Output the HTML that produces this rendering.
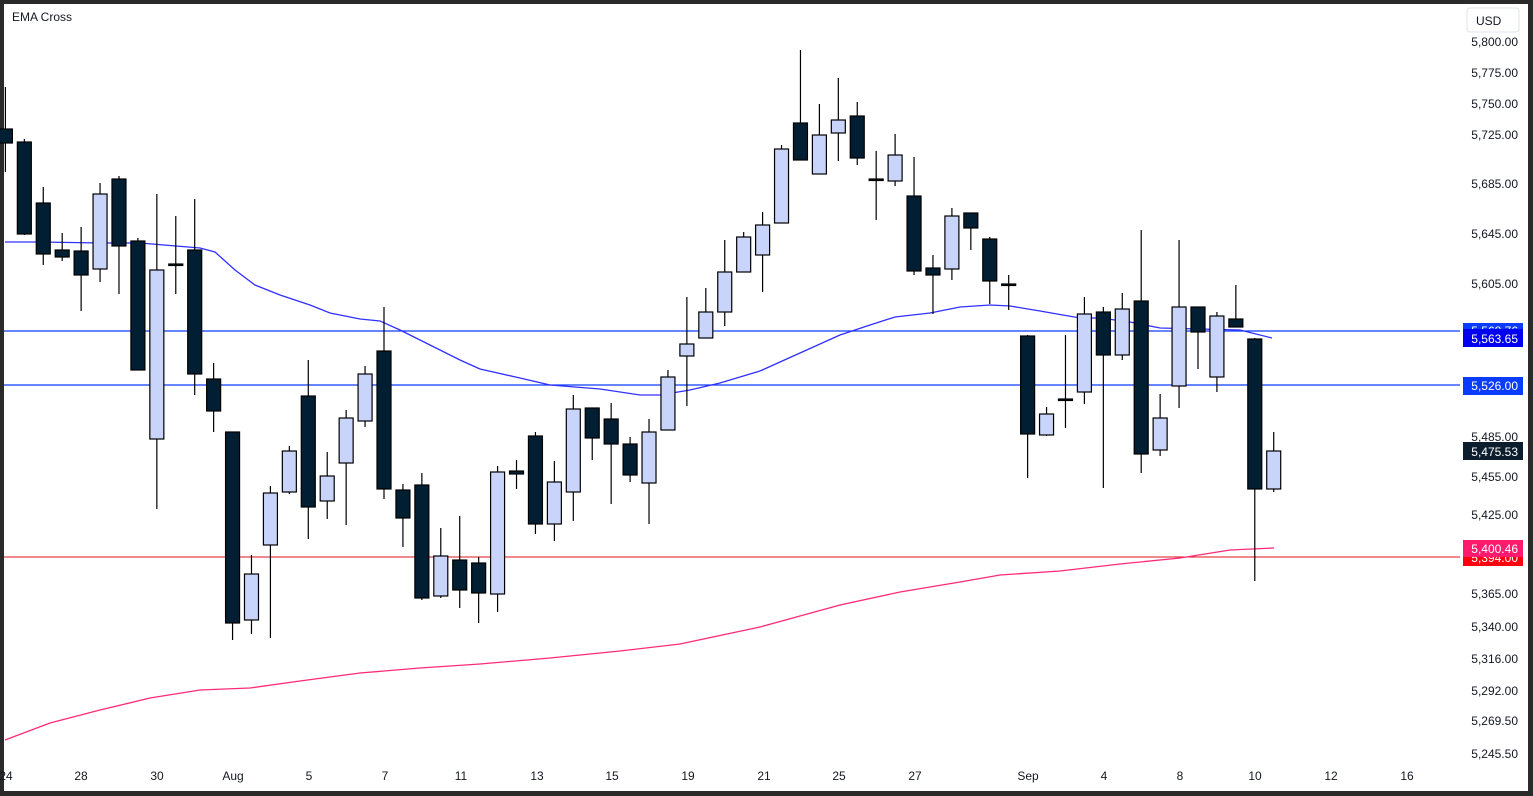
<!DOCTYPE html>
<html><head><meta charset="utf-8"><style>
html,body{margin:0;padding:0;background:#2a2a2a;}
svg{display:block;}
text{font-family:"Liberation Sans",sans-serif;}
</style></head><body>
<svg width="1533" height="796" viewBox="0 0 1533 796" xmlns="http://www.w3.org/2000/svg">
<rect x="0" y="0" width="1533" height="796" fill="#2a2a2a"/>
<rect x="4" y="4" width="1524" height="787" fill="#ffffff"/>
<text x="12" y="21" font-size="12" fill="#131722">EMA Cross</text>
<rect x="1467" y="8" width="52" height="24" rx="3" fill="#fff" stroke="#e0e3eb"/>
<text x="1476" y="25" font-size="12" fill="#131722">USD</text>
<g id="lines">
<line x1="4" y1="331" x2="1460" y2="331" stroke="#0a3cff" stroke-width="1.2"/>
<line x1="4" y1="385" x2="1460" y2="385" stroke="#0a3cff" stroke-width="1.2"/>
<line x1="4" y1="557" x2="1460" y2="557" stroke="#e0101a" stroke-width="1"/>
<polyline fill="none" stroke="#3030ff" stroke-width="1.3" points="5,242 40,242 100,243 140,243 200,248 215,252 235,270 255,285 280,295 310,305 330,313 360,319 380,321 400,330 430,345 460,360 480,369 520,378 550,385 600,389 640,395 660,395 690,390 720,383 760,371 800,353 840,335 870,325 895,317 930,313 960,307 990,305 1010,306 1040,311 1080,318 1100,318 1130,322 1160,328 1200,329 1240,330 1272,338"/>
<polyline fill="none" stroke="#ff2a78" stroke-width="1.3" points="5,740 50,723 100,710 150,698 200,690 250,688 300,681 360,673 420,668 480,664 550,658 620,651 680,644 760,627 840,605 900,592 960,582 1000,575 1060,571 1120,564 1180,558 1230,550 1274,548"/>
</g>
<g id="candles" stroke="#000" stroke-width="1.2"></g>
<g font-size="12" fill="#131722" text-anchor="end" id="yax"></g>
<g font-size="12" fill="#131722" text-anchor="middle">
<text x="6" y="780">24</text><text x="81" y="780">28</text><text x="157" y="780">30</text><text x="233" y="780">Aug</text><text x="309" y="780">5</text><text x="385" y="780">7</text><text x="461" y="780">11</text><text x="537" y="780">13</text><text x="612" y="780">15</text><text x="688" y="780">19</text><text x="764" y="780">21</text><text x="839" y="780">25</text><text x="915" y="780">27</text><text x="1028" y="780">Sep</text><text x="1104" y="780">4</text><text x="1180" y="780">8</text><text x="1255" y="780">10</text><text x="1331" y="780">12</text><text x="1407" y="780">16</text>
</g>
<g font-size="12" text-anchor="end">
<rect x="1463" y="323" width="60" height="18" fill="#0a3cff"/><text x="1518" y="335" fill="#fff">5,568.76</text>
<rect x="1463" y="329" width="60" height="18" fill="#0000f0"/><text x="1518" y="343" fill="#fff">5,563.65</text>
<rect x="1463" y="377" width="60" height="18" fill="#0a3cff"/><text x="1518" y="390" fill="#fff">5,526.00</text>
<rect x="1463" y="442" width="60" height="18" fill="#0c1e2e"/><text x="1518" y="456" fill="#fff">5,475.53</text>
<rect x="1463" y="549" width="60" height="17" fill="#ff0010"/><text x="1518" y="562" fill="#fff">5,394.00</text>
<rect x="1463" y="540" width="60" height="17" fill="#ff1a6e"/><text x="1518" y="553" fill="#fff">5,400.46</text>
</g>
</svg>
<script>
const C=[
[0,'D',129,143,87,172],[1,'D',142,234,139,235],[2,'D',203,254,187,265],[3,'D',250,257,233,261],[4,'D',251,275,227,311],[5,'L',194,269,183,282],[6,'D',179,246,176,294],[7,'D',241,370,238,370],[8,'L',270,439,194,509],[9,'X',264,264,216,294],[10,'D',250,374,199,395],[11,'D',379,411,363,432],[12,'D',432,623,432,640],[13,'L',574,620,555,634],[14,'L',493,545,486,638],[15,'L',451,492,446,494],[16,'D',396,507,360,539],[17,'L',476,501,452,519],[18,'L',418,463,410,525],[19,'L',374,421,366,427],[20,'D',351,489,307,499],[21,'D',490,518,484,547],[22,'D',485,598,473,600],[23,'L',556,596,528,598],[24,'D',560,590,516,608],[25,'D',563,593,557,623],[26,'L',472,594,466,612],[27,'D',471,474,460,489],[28,'D',436,524,432,534],[29,'L',482,524,461,541],[30,'L',409,492,395,521],[31,'D',408,438,408,460],[32,'D',419,444,403,504],[33,'D',444,475,437,482],[34,'L',432,483,419,524],[35,'L',377,430,370,430],[36,'L',344,356,297,406],[37,'L',312,338,288,338],[38,'L',272,312,240,326],[39,'L',237,272,232,272],[40,'L',225,255,212,292],[41,'L',149,223,145,223],[42,'D',123,160,50,160],[43,'L',135,174,104,174],[44,'L',120,133,78,161],[45,'D',116,158,102,165],[46,'X',179,179,151,220],[47,'L',155,181,134,186],[48,'D',196,271,157,275],[49,'D',268,275,255,314],[50,'L',216,269,208,280],[51,'D',213,228,213,250],[52,'D',239,281,237,304],[53,'X',284,284,275,310],[54,'D',336,434,335,478],[55,'L',414,435,407,436],[56,'X',399,399,335,428],[57,'L',314,392,297,404],[58,'D',312,355,307,488],[59,'L',309,355,293,360],[60,'D',301,454,230,473],[61,'L',418,450,394,456],[62,'L',307,386,240,408],[63,'D',307,332,307,369],[64,'L',316,377,312,392],[65,'D',319,327,285,327],[66,'D',339,489,338,581],[67,'L',451,489,432,492]];
const g=document.getElementById('candles');const ns='http://www.w3.org/2000/svg';
C.forEach(c=>{const x=5.4+18.93*c[0];
 const l=document.createElementNS(ns,'line');l.setAttribute('x1',x);l.setAttribute('x2',x);l.setAttribute('y1',c[4]);l.setAttribute('y2',c[5]);g.appendChild(l);
 const r=document.createElementNS(ns,'rect');let h=Math.max(c[3]-c[2],2);let w=14;if(c[1]==='X'){h=1.5;}
 r.setAttribute('x',x-w/2);r.setAttribute('y',c[2]);r.setAttribute('width',w);r.setAttribute('height',h);
 r.setAttribute('fill',c[1]==='L'?'#c8d4fa':'#021e33');g.appendChild(r);});
const Y=[['5,800.00',42],['5,775.00',73],['5,750.00',104],['5,725.00',135],['5,685.00',184],['5,645.00',234],['5,605.00',284],['5,485.00',437],['5,455.00',477],['5,425.00',515],['5,365.00',594],['5,340.00',627],['5,316.00',659],['5,292.00',691],['5,269.50',721],['5,245.50',754]];
const ya=document.getElementById('yax');
Y.forEach(v=>{const t=document.createElementNS(ns,'text');t.setAttribute('x',1518);t.setAttribute('y',v[1]+4);t.textContent=v[0];ya.appendChild(t);});
</script>
</body></html>
